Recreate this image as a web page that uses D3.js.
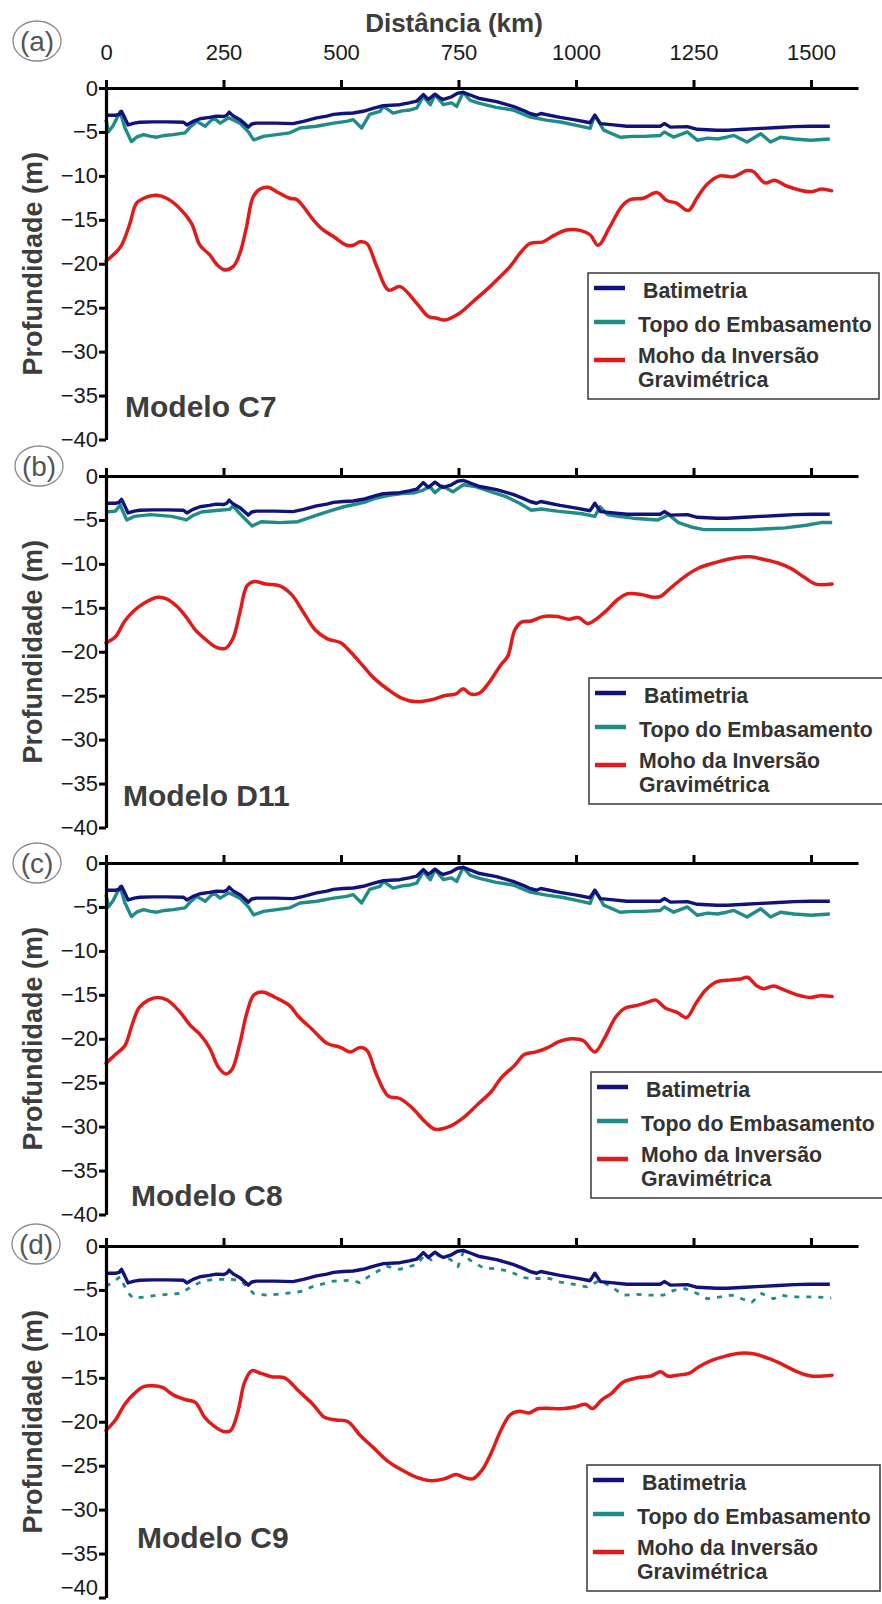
<!DOCTYPE html>
<html>
<head>
<meta charset="utf-8">
<script src="https://cdn.jsdelivr.net/npm/d3@7"></script>
<style>
  body { margin: 0; background: #fff; }
  svg { display: block; }
  text { font-family: "Liberation Sans", Arial, Helvetica, sans-serif; }
</style>
</head>
<body>
<svg id="chart" width="882" height="1604"></svg>
<script>
// ---- Axis ticks ----
const distTicks = [0, 250, 500, 750, 1000, 1250, 1500];
const depthTicks = [0, -5, -10, -15, -20, -25, -30, -35, -40];

// ---- Series names ----
const seriesNames = ["Batimetria", "Topo do Embasamento", "Moho da Inversão", "Gravimétrica"];
const modelNames = ["Modelo C7", "Modelo D11", "Modelo C8", "Modelo C9"];
const panelLetters = ["(a)", "(b)", "(c)", "(d)"];

// ---- Bathymetry (same profile in all models) ----
const batiKm = [0,20,28,33,40,47,60,72,100,130,165,172,185,200,220,235,250,257,262,271,285,303,310,320,360,398,420,448,470,484,505,526,547,570,590,625,645,661,675,686,700,710,718,735,748,760,775,795,831,866,890,902,916,925,966,1001,1030,1040,1052,1080,1108,1150,1179,1188,1201,1237,1258,1300,1322,1360,1393,1430,1464,1500,1540];
const batiDepth = [-3.1,-3.1,-3.0,-2.65,-3.4,-4.2,-4.0,-3.9,-3.85,-3.85,-3.9,-4.2,-3.8,-3.5,-3.35,-3.2,-3.25,-3.1,-2.75,-3.2,-3.6,-4.45,-4.1,-4.0,-4.0,-4.05,-3.8,-3.4,-3.2,-3.0,-2.9,-2.85,-2.65,-2.3,-2.0,-1.9,-1.7,-1.5,-0.75,-1.3,-0.7,-1.1,-1.3,-1.0,-0.6,-0.5,-0.8,-1.2,-1.55,-2.1,-2.6,-2.9,-3.1,-2.9,-3.35,-3.65,-3.95,-3.1,-4.05,-4.2,-4.35,-4.35,-4.35,-4.05,-4.45,-4.4,-4.7,-4.8,-4.8,-4.7,-4.6,-4.5,-4.4,-4.35,-4.35];

// ---- Top of basement ----
const topoKmAC = [0,5,15,30,40,54,65,80,95,108,125,143,168,180,193,211,229,243,261,270,285,303,314,335,363,391,413,448,484,512,526,544,561,583,590,611,630,647,661,675,690,700,718,735,746,760,775,795,830,866,902,937,970,1001,1030,1040,1059,1094,1120,1144,1179,1188,1208,1237,1258,1280,1301,1320,1336,1364,1393,1414,1435,1464,1500,1540];
const topoAC = [-3.6,-5.0,-4.3,-2.7,-4.5,-6.1,-5.6,-5.3,-5.5,-5.6,-5.4,-5.3,-5.1,-4.4,-3.8,-4.35,-3.4,-4.0,-3.4,-3.6,-4.0,-5.0,-5.9,-5.5,-5.3,-5.1,-4.55,-4.35,-4.0,-3.8,-3.6,-4.55,-3.0,-2.65,-2.1,-2.85,-2.6,-2.5,-2.3,-0.95,-1.9,-0.75,-1.9,-1.7,-2.1,-0.5,-1.4,-1.75,-2.2,-2.5,-3.3,-3.65,-3.9,-4.25,-4.6,-3.1,-4.8,-5.6,-5.5,-5.5,-5.4,-5.0,-5.6,-5.0,-5.95,-5.7,-5.8,-5.6,-5.4,-6.15,-5.2,-6.15,-5.6,-5.8,-5.95,-5.8];

const topoKmB = [0,20,30,44,60,95,140,165,171,185,203,240,263,270,285,311,330,370,408,430,452,480,506,549,575,602,630,657,675,689,700,716,738,760,786,820,851,880,905,926,960,1013,1040,1051,1067,1090,1121,1174,1197,1218,1245,1272,1320,1370,1410,1445,1490,1521,1545];
const topoB = [-4.1,-4.0,-3.3,-5.0,-4.6,-4.4,-4.6,-4.9,-5.0,-4.5,-4.1,-3.9,-3.8,-3.4,-4.3,-5.7,-5.2,-5.3,-5.2,-4.8,-4.4,-3.9,-3.5,-3.0,-2.5,-2.2,-2.0,-1.9,-1.6,-1.2,-1.9,-1.15,-1.8,-1.0,-1.2,-1.8,-2.35,-3.1,-3.9,-3.75,-4.0,-4.3,-4.6,-3.5,-4.4,-4.6,-4.8,-5.0,-4.4,-5.3,-5.8,-6.1,-6.1,-6.1,-6.0,-5.9,-5.6,-5.3,-5.3];

const topoKmD = [0,12,30,45,58,85,108,135,157,185,205,228,264,285,300,314,342,380,413,441,484,526,540,561,597,625,661,679,692,704,732,749,760,774,803,831,859,888,909,944,966,994,1023,1051,1080,1101,1129,1158,1186,1208,1232,1250,1279,1307,1332,1353,1374,1395,1420,1438,1462,1491,1511,1543];
const topoD = [-4.6,-4.2,-3.5,-5.2,-5.95,-5.8,-5.6,-5.5,-5.4,-4.55,-4.0,-3.8,-3.8,-3.9,-4.6,-5.4,-5.6,-5.4,-5.2,-4.6,-4.0,-3.9,-4.2,-3.4,-2.3,-2.65,-2.1,-1.0,-1.6,-1.0,-1.5,-2.35,-0.7,-1.6,-2.5,-2.6,-2.9,-3.6,-3.7,-3.7,-4.1,-4.35,-4.65,-3.9,-4.8,-5.6,-5.5,-5.6,-5.6,-5.05,-4.85,-5.2,-6.0,-5.8,-5.6,-6.0,-6.4,-5.4,-6.0,-5.6,-5.8,-5.8,-5.8,-5.9];

// ---- Moho from gravity inversion ----
const mohoKmA = [0,19,33,51,65,87,108,129,157,182,200,221,236,253,271,285,299,313,328,345,363,391,406,420,441,462,484,512,526,540,555,576,601,626,661,686,704,721,753,781,817,838,860,881,902,930,952,980,1009,1030,1047,1072,1097,1115,1143,1172,1193,1214,1239,1257,1278,1306,1335,1363,1377,1402,1423,1448,1498,1523,1544];
const mohoA = [-19.7,-18.8,-17.9,-15.4,-13.1,-12.4,-12.2,-12.55,-13.7,-15.4,-17.9,-19.0,-20.1,-20.7,-20.3,-18.8,-15.8,-12.4,-11.5,-11.3,-11.8,-12.55,-12.7,-13.5,-15.0,-16.15,-16.9,-17.9,-17.9,-17.5,-17.7,-20.3,-23.0,-22.6,-24.5,-26.0,-26.2,-26.4,-25.6,-24.3,-22.6,-21.5,-20.3,-18.8,-17.7,-17.5,-16.8,-16.15,-16.2,-16.7,-17.9,-15.8,-13.5,-12.7,-12.55,-11.9,-12.8,-13.1,-13.95,-12.55,-11.0,-10.0,-10.1,-9.4,-9.5,-10.8,-10.5,-11.15,-11.8,-11.5,-11.7];

const mohoKmB = [0,20,40,60,80,110,130,150,170,190,210,235,255,270,285,300,315,340,370,395,420,445,470,500,520,545,570,600,630,660,690,720,745,760,775,795,815,840,855,870,885,905,930,960,985,1005,1025,1045,1065,1090,1110,1140,1165,1180,1200,1230,1260,1300,1340,1370,1400,1430,1460,1485,1510,1545];
const mohoB = [-19.0,-18.3,-16.5,-15.3,-14.5,-13.8,-14.0,-14.8,-16.0,-17.5,-18.5,-19.5,-19.6,-18.5,-15.5,-12.5,-12.0,-12.3,-12.5,-13.5,-15.5,-17.5,-18.5,-19.0,-20.0,-21.5,-23.0,-24.3,-25.3,-25.7,-25.5,-25.0,-24.8,-24.2,-24.8,-24.7,-23.5,-21.5,-20.5,-17.5,-16.6,-16.5,-16.0,-16.0,-16.3,-16.1,-16.8,-16.2,-15.3,-14.0,-13.4,-13.5,-13.8,-13.7,-12.8,-11.5,-10.5,-9.8,-9.3,-9.2,-9.5,-9.9,-10.6,-11.5,-12.3,-12.3];

const mohoKmC = [0,20,40,55,70,90,110,130,155,180,200,220,240,255,268,285,300,315,335,360,390,410,440,470,500,520,540,555,575,600,625,650,680,700,730,760,790,820,840,870,890,915,940,965,990,1015,1040,1060,1085,1105,1130,1155,1170,1190,1215,1235,1255,1275,1300,1330,1350,1365,1385,1400,1420,1445,1470,1500,1520,1545];
const mohoC = [-22.8,-21.8,-20.8,-18.5,-16.5,-15.6,-15.3,-15.6,-16.8,-18.5,-19.5,-21.0,-23.3,-24.0,-23.5,-20.5,-17.0,-15.0,-14.7,-15.3,-16.2,-17.5,-19.0,-20.5,-21.0,-21.5,-21.0,-21.3,-24.0,-26.5,-26.8,-27.8,-29.5,-30.3,-30.0,-29.0,-27.5,-26.0,-24.5,-23.0,-21.8,-21.5,-21.0,-20.3,-20.0,-20.2,-21.5,-20.0,-17.5,-16.5,-16.2,-15.8,-15.6,-16.5,-17.0,-17.6,-16.0,-14.5,-13.5,-13.3,-13.2,-13.0,-14.0,-14.3,-14.0,-14.5,-15.0,-15.3,-15.1,-15.2];

const mohoKmD = [0,20,40,60,80,100,120,145,170,190,210,230,250,265,280,295,310,330,355,380,410,440,465,490,515,540,570,600,630,660,690,720,745,760,780,800,820,840,860,880,900,920,950,975,1000,1020,1035,1055,1075,1100,1130,1160,1180,1195,1215,1240,1260,1290,1320,1350,1380,1410,1440,1470,1500,1545];
const mohoD = [-21.0,-19.8,-18.0,-16.8,-16.0,-15.9,-16.1,-17.0,-17.5,-17.8,-19.5,-20.5,-21.1,-21.0,-19.0,-15.5,-14.2,-14.5,-14.9,-15.0,-16.5,-18.0,-19.5,-19.8,-20.0,-21.5,-23.0,-24.5,-25.5,-26.3,-26.7,-26.5,-26.0,-26.3,-26.5,-25.5,-23.5,-21.0,-19.2,-18.8,-19.0,-18.5,-18.5,-18.5,-18.3,-18.0,-18.5,-17.5,-16.8,-15.5,-15.0,-14.8,-14.3,-14.8,-14.7,-14.5,-13.8,-13.0,-12.5,-12.2,-12.3,-12.8,-13.5,-14.3,-14.8,-14.7];

// ---- Styles ----
const COLORS = { bati: "#12127e", topo: "#1f8c88", moho: "#e21a1a", text: "#3d3d3d" };

const zip = (xs, ys) => xs.map((k, i) => [k, ys[i]]);

// Per-panel layout
const panels = [
  { zero: 88,   topo: zip(topoKmAC, topoAC), moho: zip(mohoKmA, mohoA), dashed: false,
    legend: { top: 273, left: 588, right: 879 }, model: { x: 125, y: 417 }, letter: { x: 37, y: 41 }, labels: true },
  { zero: 476,  topo: zip(topoKmB, topoB), moho: zip(mohoKmB, mohoB), dashed: false,
    legend: { top: 678, left: 589, right: 884 }, model: { x: 123, y: 806 }, letter: { x: 39, y: 466 }, labels: false },
  { zero: 863,  topo: zip(topoKmAC, topoAC), moho: zip(mohoKmC, mohoC), dashed: false,
    legend: { top: 1072, left: 591, right: 884 }, model: { x: 131, y: 1206 }, letter: { x: 37, y: 863 }, labels: false },
  { zero: 1246, topo: zip(topoKmD, topoD), moho: zip(mohoKmD, mohoD), dashed: true,
    legend: { top: 1465, left: 587, right: 880 }, model: { x: 137, y: 1548 }, letter: { x: 36, y: 1244 }, labels: false }
];

const svg = d3.select("#chart");
const x = d3.scaleLinear().domain([0, 1600]).range([106, 858]);
const bati = zip(batiKm, batiDepth);

// Title of the shared distance axis
svg.append("text")
  .attr("x", 454).attr("y", 32)
  .attr("text-anchor", "middle")
  .attr("font-size", 26).attr("font-weight", "bold")
  .attr("fill", COLORS.text)
  .text("Distância (km)");

panels.forEach((p, i) => {
  const y = d3.scaleLinear().domain([0, -40]).range([p.zero, p.zero + 351.5]);
  const g = svg.append("g");
  const line = d3.line().x(d => x(d[0])).y(d => y(d[1]));
  const smooth = d3.line().x(d => x(d[0])).y(d => y(d[1])).curve(d3.curveCatmullRom.alpha(0.5));

  // Data lines
  g.append("path").datum(p.moho)
    .attr("d", smooth).attr("fill", "none")
    .attr("stroke", COLORS.moho).attr("stroke-width", 3.5)
    .attr("stroke-linejoin", "round").attr("stroke-linecap", "round");

  g.append("path").datum(p.topo)
    .attr("d", line).attr("fill", "none")
    .attr("stroke", COLORS.topo).attr("stroke-width", p.dashed ? 2.8 : 3.4)
    .attr("stroke-dasharray", p.dashed ? "5,7" : null)
    .attr("stroke-linejoin", "round");

  g.append("path").datum(bati)
    .attr("d", line).attr("fill", "none")
    .attr("stroke", COLORS.bati).attr("stroke-width", 3.4)
    .attr("stroke-linejoin", "round");

  // Distance axis along the surface (ticks point up)
  const xa = g.append("g").attr("transform", `translate(0,${p.zero})`)
    .call(d3.axisTop(x).tickValues(distTicks).tickSize(8).tickSizeOuter(0).tickPadding(20)
      .tickFormat(p.labels ? d3.format("d") : () => ""));
  xa.select(".domain").attr("stroke", "#000").attr("stroke-width", 3.2);
  xa.selectAll(".tick line").attr("stroke", "#000").attr("stroke-width", 3);
  xa.selectAll(".tick text").attr("font-size", 22).attr("fill", "#1a1a1a")
    .attr("font-family", '"Liberation Sans", Arial, sans-serif');

  // Depth axis
  const ya = g.append("g").attr("transform", `translate(106,0)`)
    .call(d3.axisLeft(y).tickValues(depthTicks).tickSize(7).tickSizeOuter(0).tickPadding(1)
      .tickFormat(d3.format("d")));
  ya.select(".domain").attr("stroke", "#000").attr("stroke-width", 3.2);
  ya.selectAll(".tick line").attr("stroke", "#000").attr("stroke-width", 3);
  ya.selectAll(".tick text").attr("font-size", 22).attr("fill", "#1a1a1a")
    .attr("font-family", '"Liberation Sans", Arial, sans-serif');
  // keep the lowest label of the last panel inside the page
  if (i === panels.length - 1) {
    ya.selectAll(".tick text").filter(d => d === -40).attr("dy", "-0.12em");
  }
  xa.raise();

  // Depth axis title
  g.append("text")
    .attr("transform", `translate(42,${y(-20)}) rotate(-90)`)
    .attr("text-anchor", "middle")
    .attr("font-size", 27).attr("font-weight", "bold")
    .attr("fill", COLORS.text)
    .text("Profundidade (m)");

  // Model name
  g.append("text")
    .attr("x", p.model.x).attr("y", p.model.y)
    .attr("font-size", 30).attr("font-weight", "bold")
    .attr("fill", COLORS.text)
    .text(modelNames[i]);

  // Panel letter in a ring
  g.append("ellipse")
    .attr("cx", p.letter.x).attr("cy", p.letter.y)
    .attr("rx", 24).attr("ry", 20)
    .attr("fill", "none").attr("stroke", "#8a8a8a").attr("stroke-width", 1.3);
  g.append("text")
    .attr("x", p.letter.x).attr("y", p.letter.y + 10)
    .attr("text-anchor", "middle")
    .attr("font-size", 28).attr("fill", "#555")
    .text(panelLetters[i]);

  // Legend
  const L = p.legend;
  const lg = g.append("g");
  lg.append("rect")
    .attr("x", L.left).attr("y", L.top)
    .attr("width", L.right - L.left).attr("height", 126)
    .attr("fill", "#fff").attr("stroke", "#444").attr("stroke-width", 1.6);
  const items = [
    { color: COLORS.bati, dy: 15, text: [seriesNames[0]], ty: [25], tx: 55 },
    { color: COLORS.topo, dy: 49, text: [seriesNames[1]], ty: [59], tx: 50 },
    { color: COLORS.moho, dy: 87, text: [seriesNames[2], seriesNames[3]], ty: [90, 114], tx: 50 }
  ];
  items.forEach(it => {
    lg.append("line")
      .attr("x1", L.left + 6).attr("x2", L.left + 37)
      .attr("y1", L.top + it.dy).attr("y2", L.top + it.dy)
      .attr("stroke", it.color).attr("stroke-width", 4.5);
    it.text.forEach((t, k) => {
      lg.append("text")
        .attr("x", L.left + it.tx).attr("y", L.top + it.ty[k])
        .attr("font-size", 21.3).attr("font-weight", "bold")
        .attr("fill", "#333")
        .text(t);
    });
  });
});
</script>
</body>
</html>
